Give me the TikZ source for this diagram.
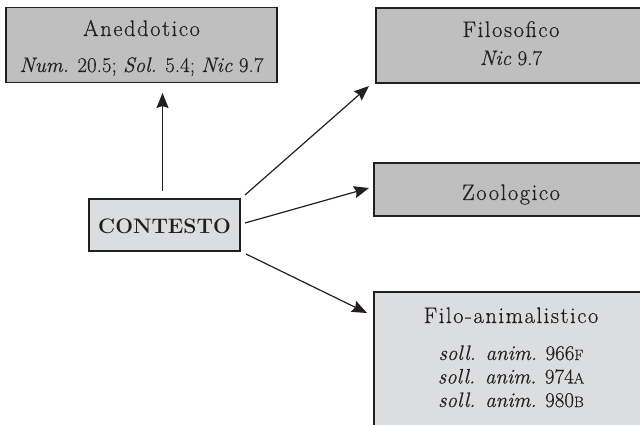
\documentclass[tikz,border=0pt]{standalone}
\usepackage{fontspec}
\newfontfamily\headfont{Latin Modern Roman}[LetterSpace=7, FakeBold=0.5]
\newfontfamily\bodyfont{Latin Modern Roman}[FakeBold=0.35, ItalicFeatures={FakeBold=0.35}]
\usetikzlibrary{arrows.meta}
\definecolor{boxdark}{HTML}{BFBFBF}
\definecolor{boxlight}{HTML}{DCDDDE}
\definecolor{ink}{HTML}{231F20}
\newcommand{\fakesc}[1]{{\fontsize{15}{18}\selectfont #1}}
\begin{document}
\begin{tikzpicture}[x=1pt,y=-1pt,
  basebox/.style={draw=ink, line width=1.1pt, inner sep=0pt, rectangle},
  darkbox/.style={basebox, fill=boxdark},
  lightbox/.style={basebox, fill=boxlight},
  lbl/.style={anchor=base, inner sep=0pt, text=ink, font=\bodyfont\fontsize{21}{24}\selectfont},
  headlbl/.style={lbl, font=\headfont\fontsize{22.5}{26}\selectfont},
  boldlbl/.style={lbl, font=\fontsize{21}{24}\selectfont\bfseries},
  conn/.style={draw=ink, line width=1.2pt, -{Stealth[length=15pt,width=12pt,inset=2pt]}}]
\useasboundingbox (0,0) rectangle (640,425);
\clip (0,0) rectangle (640,425);
% boxes
\node[darkbox, minimum width=271pt, minimum height=75pt] (anedd) at (141.5,44.8) {};
\node[darkbox, minimum width=270pt, minimum height=75pt] (filos) at (511,45.5) {};
\node[darkbox, minimum width=274pt, minimum height=53pt] (zoolo) at (511,189.5) {};
\node[lightbox, minimum width=274pt, minimum height=148pt] (filoan) at (511,366) {};
\node[lightbox, minimum width=151pt, minimum height=52pt] (cont) at (164.5,225) {};
% texts
\node[headlbl] (t1) at (141.5,36) {Aneddotico};
\node[lbl] (t2) at (141.5,72) {\textit{Num.} 20.5; \textit{Sol.} 5.4; \textit{Nic} 9.7};
\node[headlbl] (t3) at (511,37) {Filosofico};
\node[lbl] (t4) at (511,65) {\textit{Nic} 9.7};
\node[headlbl] (t5) at (511,200) {Zoologico};
\node[boldlbl] (t6) at (164.5,233) {CONTESTO};
\node[headlbl] (t7) at (511,323) {Filo-animalistico};
\node[lbl] (t8) at (511,360) {\textit{soll. anim.} 966\fakesc{F}};
\node[lbl] (t9) at (511,383.5) {\textit{soll. anim.} 974\fakesc{A}};
\node[lbl] (t10) at (511,407) {\textit{soll. anim.} 980\fakesc{B}};
% connector endpoints
\coordinate (s1) at (162.5,191);
\coordinate (e1) at (162.5,93);
\coordinate (s2) at (245,195);
\coordinate (e2) at (369,86);
\coordinate (s3) at (245,223);
\coordinate (e3) at (369,188);
\coordinate (s4) at (246,254);
\coordinate (e4) at (367,313);
\draw[conn] (s1) -- (e1);
\draw[conn] (s2) -- (e2);
\draw[conn] (s3) -- (e3);
\draw[conn] (s4) -- (e4);
\end{tikzpicture}
\end{document}
